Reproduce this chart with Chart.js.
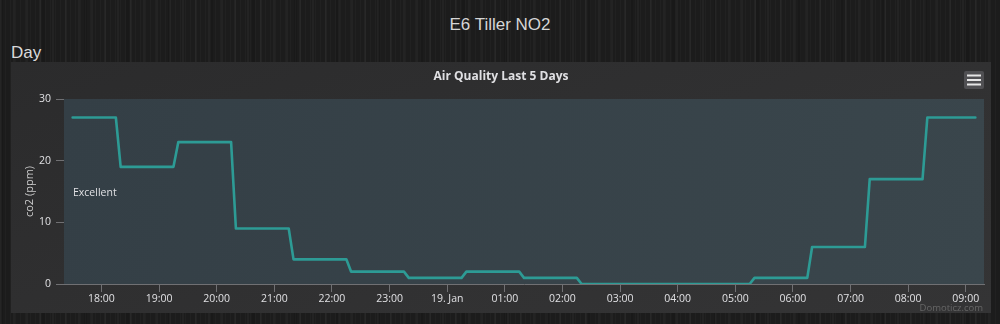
<!DOCTYPE html>
<html>
<head>
<meta charset="utf-8">
<script src="https://cdn.jsdelivr.net/npm/chart.js@4.4.1/dist/chart.umd.min.js"></script>
<style>
  html, body { margin: 0; padding: 0; }
  body {
    width: 1000px; height: 324px; overflow: hidden; position: relative;
    background-color: #1c1c1c;
    background-image:
      repeating-linear-gradient(90deg, rgba(255,255,255,0.025) 0px, rgba(255,255,255,0.025) 1px, rgba(0,0,0,0) 1px, rgba(0,0,0,0) 5px),
      repeating-linear-gradient(90deg, rgba(255,255,255,0.03) 0px, rgba(255,255,255,0.03) 2px, rgba(0,0,0,0) 2px, rgba(0,0,0,0) 13px),
      repeating-linear-gradient(90deg, rgba(0,0,0,0.12) 0px, rgba(0,0,0,0.12) 3px, rgba(0,0,0,0) 3px, rgba(0,0,0,0) 42px);
    font-family: "Liberation Sans", Arial, sans-serif;
  }
  #title {
    position: absolute; left: 0; top: 15px; width: 1000px; text-align: center;
    font-size: 17px; line-height: 20px; color: #d6d6d6;
  }
  #section {
    position: absolute; left: 11px; top: 43px;
    font-size: 17px; line-height: 20px; color: #dadada;
  }
  #panel {
    position: absolute; left: 11px; top: 62px; width: 980px; height: 251px;
    background: linear-gradient(160deg, #2b2b2c 0%, #313132 60%, #343435 100%);
  }
  #panel canvas { display: block; }
</style>
</head>
<body>
<div id="title">E6 Tiller NO2</div>
<div id="section">Day</div>
<div id="panel"><canvas id="chart" width="980" height="251"></canvas></div>
<script>
// NO2 readings (ppm), sampled around each hourly sensor update
const times = ["17:30", "18:15", "18:20", "19:15", "19:20", "20:15", "20:20", "21:15", "21:20",
               "22:15", "22:20", "23:15", "23:20", "00:15", "00:20", "01:15", "01:20", "02:15",
               "02:20", "05:15", "05:20", "06:15", "06:20", "07:15", "07:20", "08:15", "08:20", "09:10"];
const values = [27, 27, 19, 19, 23, 23, 9, 9, 4,
                4, 2, 2, 1, 1, 2, 2, 1, 1,
                0, 0, 1, 1, 6, 6, 17, 17, 27, 27];

// hourly axis ticks
const tickTimes = ["18:00", "19:00", "20:00", "21:00", "22:00", "23:00", "00:00", "01:00",
                   "02:00", "03:00", "04:00", "05:00", "06:00", "07:00", "08:00", "09:00"];
const tickLabels = ["18:00", "19:00", "20:00", "21:00", "22:00", "23:00", "19. Jan", "01:00",
                    "02:00", "03:00", "04:00", "05:00", "06:00", "07:00", "08:00", "09:00"];

const rangeStart = "17:21";
const rangeEnd = "09:19";

// minutes since 18:00 on the first day; early-morning times belong to the next day
function toMinutes(t) {
  const [h, m] = t.split(":").map(Number);
  let v = h * 60 + m - 18 * 60;
  if (v < -120) v += 1440;
  return v;
}

const points = times.map((t, i) => ({ x: toMinutes(t), y: values[i] }));
const tickValues = tickTimes.map(toMinutes);

const FONT = "'Open Sans', 'DejaVu Sans', sans-serif";
const AXIS = "#707073";
const TEXT = "#e0e0e3";

const panelDecor = {
  id: "panelDecor",
  beforeDatasetsDraw(chart) {
    const { ctx, chartArea: a, scales: { y } } = chart;
    ctx.save();
    // "Excellent" band covering the whole range
    const top = y.getPixelForValue(30), bottom = y.getPixelForValue(0);
    const g = ctx.createLinearGradient(a.left, top, a.right, bottom);
    g.addColorStop(0, "#343f46");
    g.addColorStop(1, "#3a464c");
    ctx.fillStyle = g;
    ctx.fillRect(a.left, top, a.right - a.left, bottom - top);
    ctx.fillStyle = TEXT;
    ctx.font = "10.5px " + FONT;
    ctx.textBaseline = "middle";
    ctx.textAlign = "left";
    ctx.fillText("Excellent", a.left + 9, y.getPixelForValue(15) + 2);
    ctx.restore();
  },
  afterDraw(chart) {
    const { ctx, width } = chart;
    ctx.save();
    // chart title
    ctx.fillStyle = TEXT;
    ctx.font = "bold 12px " + FONT;
    ctx.textAlign = "center";
    ctx.textBaseline = "middle";
    ctx.fillText("Air Quality Last 5 Days", width / 2, 15);
    // export menu button
    ctx.fillStyle = "#505053";
    ctx.beginPath();
    ctx.roundRect(953, 9, 20, 18, 2);
    ctx.fill();
    ctx.strokeStyle = "#e6e6e6";
    ctx.lineWidth = 2;
    for (const yy of [13.5, 18, 22.5]) {
      ctx.beginPath();
      ctx.moveTo(956, yy);
      ctx.lineTo(970, yy);
      ctx.stroke();
    }
    // credits
    ctx.fillStyle = "#666666";
    ctx.font = "9.5px " + FONT;
    ctx.textAlign = "right";
    ctx.textBaseline = "alphabetic";
    ctx.fillText("Domoticz.com", 972, 249);
    ctx.restore();
  }
};

new Chart(document.getElementById("chart"), {
  type: "line",
  data: {
    datasets: [{
      data: points,
      borderColor: "#2d9b95",
      borderWidth: 2.6,
      borderJoinStyle: "round",
      borderCapStyle: "round",
      pointRadius: 0,
      tension: 0,
      fill: false
    }]
  },
  options: {
    responsive: false,
    animation: false,
    events: [],
    layout: { padding: { top: 37, right: 7, bottom: 0, left: 0 } },
    plugins: { legend: { display: false }, tooltip: { enabled: false }, title: { display: false } },
    scales: {
      x: {
        type: "linear",
        min: toMinutes(rangeStart),
        max: toMinutes(rangeEnd),
        afterBuildTicks(scale) { scale.ticks = tickValues.map(v => ({ value: v })); },
        afterFit(scale) { scale.height = 29; },
        border: { display: true, color: AXIS, width: 1 },
        grid: { drawOnChartArea: false, drawTicks: true, tickLength: 8, color: AXIS },
        ticks: {
          autoSkip: false, maxRotation: 0, padding: 1,
          color: TEXT, font: { family: FONT, size: 10.5 },
          callback(value) {
            const i = tickValues.indexOf(value);
            return i >= 0 ? tickLabels[i] : "";
          }
        }
      },
      y: {
        min: 0, max: 30,
        afterFit(scale) { scale.width = 53; },
        border: { display: false },
        grid: { drawOnChartArea: false, drawTicks: true, tickLength: 8, color: AXIS },
        ticks: { stepSize: 10, padding: 5, color: TEXT, font: { family: FONT, size: 10.5 } },
        title: {
          display: true, text: "co2 (ppm)", color: "#cccccc",
          font: { family: FONT, size: 11 }, padding: { top: 12.5, bottom: 0 }
        }
      }
    }
  },
  plugins: [panelDecor]
});
</script>
</body>
</html>
